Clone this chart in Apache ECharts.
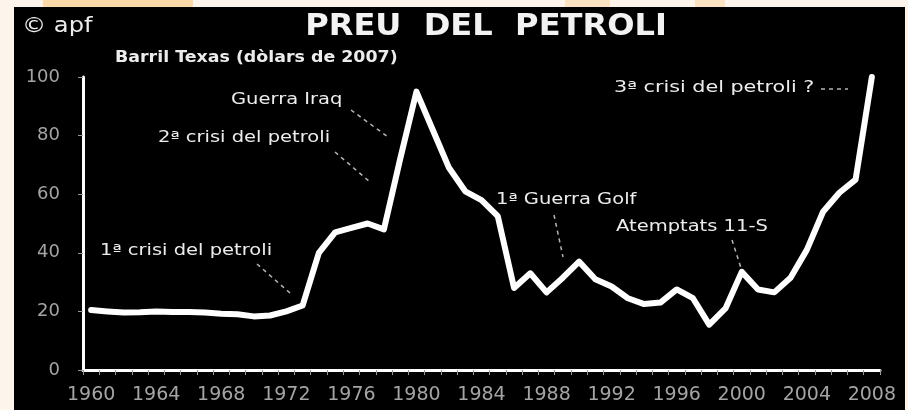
<!DOCTYPE html>
<html>
<head>
<meta charset="utf-8">
<title>Preu del petroli</title>
<script src="https://cdn.jsdelivr.net/npm/echarts@6/dist/echarts.min.js"></script>
<style>
  html, body { margin: 0; padding: 0; background: #fdf5ec; }
  #chart { width: 908px; height: 410px; }
</style>
</head>
<body>
<div id="chart"></div>
<script>
// anys (eix X)
const years = []
for (let y = 1960; y <= 2008; y++) years.push(String(y))

// preu del barril Texas, dòlars de 2007 (llegit del gràfic)
const prices = [
  20.5, 20.0, 19.6, 19.7, 20.0, 19.8, 19.8, 19.6, 19.2, 19.0,
  18.3, 18.6, 20.0, 22.0, 40.0, 47.0, 48.5, 50.0, 48.0, 72.0,
  95.0, 82.0, 69.0, 61.0, 58.0, 52.5, 28.0, 33.0, 26.5, 31.5,
  37.0, 31.0, 28.5, 24.5, 22.5, 23.0, 27.5, 24.5, 15.5, 21.0,
  33.5, 27.5, 26.5, 31.5, 41.0, 54.0, 60.5, 65.0, 100.0
]

const yTicks = [0, 20, 40, 60, 80, 100]

const fontAnn = '"DejaVu Sans", sans-serif'
const annColor = '#ececec'
const leaderColor = '#b5b5b5'

// text estirat en horitzontal, com a la diapositiva original
function annText(x, y, text, size, weight, stretch, align, color) {
  return {
    type: 'text',
    x: x,
    y: y,
    scaleX: stretch || 1.3,
    style: {
      text: text,
      fill: color || annColor,
      align: align || 'left',
      verticalAlign: 'middle',
      font: (weight || 'normal') + ' ' + (size || 15) + 'px ' + fontAnn
    },
    z: 10
  }
}

function leader(x1, y1, x2, y2) {
  return {
    type: 'line',
    shape: { x1: x1, y1: y1, x2: x2, y2: y2 },
    style: { stroke: leaderColor, lineWidth: 1.5, lineDash: [4, 4] },
    z: 10
  }
}

const chart = echarts.init(document.getElementById('chart'))

const option = {
  backgroundColor: '#fdf5ec',
  animation: false,
  grid: {
    left: 83,
    right: 28,
    top: 77,
    bottom: 40
  },
  xAxis: {
    type: 'category',
    data: years,
    boundaryGap: true,
    axisLine: { lineStyle: { color: '#ffffff', width: 3 } },
    axisTick: { show: true, interval: 0, length: 5, lineStyle: { color: '#9a9a9a', width: 1 } },
    axisLabel: {
      interval: 3,
      color: '#a4a4a4',
      fontSize: 19,
      margin: 16,
      fontFamily: '"DejaVu Sans", sans-serif'
    },
    splitLine: { show: false }
  },
  yAxis: {
    type: 'value',
    min: yTicks[0],
    max: yTicks[yTicks.length - 1],
    interval: 20,
    axisLine: { show: true, lineStyle: { color: '#ffffff', width: 3 } },
    axisTick: { show: true, length: 5, lineStyle: { color: '#9a9a9a', width: 1 } },
    axisLabel: {
      color: '#a4a4a4',
      fontSize: 18,
      margin: 23,
      fontFamily: '"DejaVu Sans", sans-serif'
    },
    splitLine: { show: false }
  },
  series: [
    {
      name: 'Preu',
      type: 'line',
      data: prices,
      symbol: 'none',
      smooth: false,
      lineStyle: { color: '#ffffff', width: 6, cap: 'round', join: 'round' },
      z: 5
    }
  ],
  graphic: [
    // fons negre de la diapositiva
    {
      type: 'rect',
      shape: { x: 14, y: 7, width: 891, height: 403 },
      style: { fill: '#000000' },
      z: -10
    },
    // taques taronja de la part superior
    { type: 'rect', shape: { x: 43, y: 0, width: 150, height: 7 }, style: { fill: '#fbd9a8' }, z: -10 },
    { type: 'rect', shape: { x: 565, y: 0, width: 45, height: 7 }, style: { fill: '#fbe3c2' }, z: -10 },
    { type: 'rect', shape: { x: 695, y: 0, width: 30, height: 7 }, style: { fill: '#fbe3c2' }, z: -10 },
    annText(486, 27, 'PREU  DEL  PETROLI', 30, 'bold', 1.07, 'center', '#f2f2f2'),
    annText(22, 27, '© apf', 21, 'normal', 1.15),
    annText(115, 58, 'Barril Texas (dòlars de 2007)', 15, 'bold', 1.16),
    annText(231, 100, 'Guerra Iraq', 15),
    annText(158, 138, '2ª crisi del petroli', 15),
    annText(100, 251, '1ª crisi del petroli', 15),
    annText(496, 200, '1ª Guerra Golf', 15),
    annText(616, 227, 'Atemptats 11-S', 15),
    annText(614, 88, '3ª crisi del petroli ?', 15, 'normal', 1.38),
    leader(351, 110, 388, 137),
    leader(335, 152, 370, 182),
    leader(257, 264, 290, 293),
    leader(554, 215, 563, 257),
    leader(732, 240, 741, 268),
    leader(821, 89, 848, 89)
  ]
}

chart.setOption(option)
</script>
</body>
</html>
